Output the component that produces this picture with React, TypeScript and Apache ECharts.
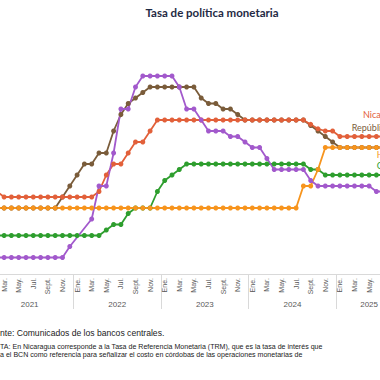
import React, { useEffect, useRef } from 'react';
import * as echarts from 'echarts';

// ---- Data ----
const monthNames = ['Ene.', 'Feb.', 'Mar.', 'Abr.', 'May.', 'Jun.', 'Jul.', 'Ago.', 'Sept.', 'Oct.', 'Nov.', 'Dic.'];
const years = ['2021', '2022', '2023', '2024', '2025'];
const monthsInYear = [12, 12, 12, 12, 9];

// Monthly policy rates, Jan 2021 - Sep 2025 (%)
const nicaragua = [
  3.75, 3.75, 3.5, 3.5, 3.5, 3.5, 3.5, 3.5, 3.5, 3.5, 3.5, 3.5,
  3.5, 3.5, 3.5, 3.75, 4.5, 5.0, 5.0, 5.5, 6.0, 6.0, 6.5, 7.0,
  7, 7, 7, 7, 7, 7, 7, 7, 7, 7, 7, 7,
  7, 7, 7, 7, 7, 7, 7, 7, 6.8, 6.6, 6.5, 6.5,
  6.25, 6.25, 6.25, 6.25, 6.25, 6.25, 6.25, 6.25, 6.25,
];
const dominicana = [
  3, 3, 3, 3, 3, 3, 3, 3, 3, 3, 3.5, 4,
  4.5, 5, 5, 5.5, 5.5, 6.5, 7.25, 7.75, 8, 8.25, 8.5, 8.5,
  8.5, 8.5, 8.5, 8.5, 8.5, 8, 7.75, 7.75, 7.5, 7.5, 7.25, 7,
  7, 7, 7, 7, 7, 7, 7, 7, 6.75, 6.5, 6.25, 6,
  5.75, 5.75, 5.75, 5.75, 5.75, 5.75, 5.75, 5.75, 5.75,
];
const honduras = [
  3, 3, 3, 3, 3, 3, 3, 3, 3, 3, 3, 3,
  3, 3, 3, 3, 3, 3, 3, 3, 3, 3, 3, 3,
  3, 3, 3, 3, 3, 3, 3, 3, 3, 3, 3, 3,
  3, 3, 3, 3, 3, 3, 3, 4, 4, 4.75, 5.75, 5.75,
  5.75, 5.75, 5.75, 5.75, 5.75, 5.75, 5.75, 5.75, 5.75,
];
const guatemala = [
  1.75, 1.75, 1.75, 1.75, 1.75, 1.75, 1.75, 1.75, 1.75, 1.75, 1.75, 1.75,
  1.75, 1.75, 1.75, 1.75, 2, 2.25, 2.25, 2.75, 3, 3, 3, 3.75,
  4.25, 4.5, 4.75, 5, 5, 5, 5, 5, 5, 5, 5, 5,
  5, 5, 5, 5, 5, 5, 5, 5, 4.75, 4.75, 4.5, 4.5,
  4.5, 4.5, 4.5, 4.5, 4.5, 4.5, 4.5, 4.5, 4.5,
];
const costaRica = [
  0.75, 0.75, 0.75, 0.75, 0.75, 0.75, 0.75, 0.75, 0.75, 0.75, 0.75, 1.25,
  null, null, 2.5, 4, 4, 5.5, 7.5, 7.5, 8.5, 9, 9, 9,
  9, 9, 8.5, 7.5, 7.5, 7, 6.5, 6.5, 6.5, 6.25, 6.25, 6,
  5.75, 5.75, 5.25, 4.75, 4.75, 4.75, 4.75, 4.75, 4.25, 4, 4, 4,
  4, 4, 4, 4, 4, 3.75, 3.75, 3.5, 3.5,
];

const seriesDefs = [
  { name: 'República Dominicana', data: dominicana, color: '#7A5C3A', labelIdx: 50, offset: [-2.8, -20.5] },
  { name: 'Nicaragua', data: nicaragua, color: '#E2603A', labelIdx: 51, offset: [1.2, -22] },
  { name: 'Guatemala', data: guatemala, color: '#2E9E2E', labelIdx: 53, offset: [0.3, -9.7] },
  { name: 'Honduras', data: honduras, color: '#F7941D', labelIdx: 53, offset: [0.3, 6.5] },
  { name: 'Costa Rica', data: costaRica, color: '#A259CC', labelIdx: 56, offset: [6, 8] },
];

const sourceText = 'Fuente: Comunicados de los bancos centrales.';
const noteLine1 = 'NOTA: En Nicaragua corresponde a la Tasa de Referencia Monetaria (TRM), que es la tasa de interés que';
const noteLine2 = 'utiliza el BCN como referencia para señalizar el costo en córdobas de las operaciones monetarias de';

export default function App() {
  const ref = useRef<HTMLDivElement>(null);

  useEffect(() => {
    if (!ref.current) return;
    const chart = echarts.init(ref.current, null, { renderer: 'svg' });

    const categories: string[] = [];
    const yearStarts: number[] = [];
    const yearCenters: number[] = [];
    years.forEach((y, yi) => {
      const start = categories.length;
      yearStarts.push(start);
      for (let k = 0; k < monthsInYear[yi]; k++) categories.push(monthNames[k] + '|' + y);
      yearCenters.push(start + (monthsInYear[yi] - 1) / 2);
    });
    const total = categories.length;

    const series = seriesDefs.map((s) => ({
      type: 'line',
      name: s.name,
      xAxisIndex: 0,
      yAxisIndex: 0,
      connectNulls: true,
      symbol: 'circle',
      symbolSize: 5,
      showAllSymbol: true,
      lineStyle: { color: s.color, width: 1.8 },
      itemStyle: { color: s.color },
      emphasis: { disabled: true },
      data: s.data.map((v, i) =>
        i === s.labelIdx
          ? {
              value: v,
              label: {
                show: true,
                position: 'inside',
                align: 'left',
                verticalAlign: 'middle',
                offset: s.offset,
                formatter: s.name,
                color: s.color,
                fontSize: 9,
                fontFamily: 'Lato',
              },
            }
          : v
      ),
    }));

    const option: any = {
      animation: false,
      backgroundColor: '#ffffff',
      title: {
        text: 'Tasa de política monetaria',
        left: 272,
        top: 6,
        padding: 0,
        textAlign: 'center',
        textStyle: { fontFamily: 'Lato', fontWeight: 'bold', fontSize: 11.5, color: '#1F2A44' },
      },
      grid: { left: 45.85, top: 54, width: 416.1, height: 220, containLabel: false },
      xAxis: [
        {
          type: 'category',
          data: categories,
          boundaryGap: true,
          position: 'bottom',
          axisLine: { show: true, lineStyle: { color: '#D9D9D9', width: 1 } },
          axisTick: { show: false },
          axisLabel: {
            interval: 1,
            rotate: 90,
            margin: 4,
            fontSize: 7,
            color: '#595959',
            fontFamily: 'Liberation Sans',
            formatter: (v: string) => v.split('|')[0],
          },
          splitLine: { show: false },
        },
        {
          type: 'value',
          min: -0.5,
          max: total - 0.5,
          position: 'bottom',
          axisLine: { show: false },
          axisTick: {
            show: true,
            length: 35,
            customValues: yearStarts.slice(1).map((s) => s - 0.5),
            lineStyle: { color: '#D9D9D9', width: 1 },
          },
          axisLabel: {
            show: true,
            customValues: yearCenters,
            margin: 26,
            fontSize: 8,
            color: '#595959',
            fontFamily: 'Liberation Sans',
            formatter: (v: number) => {
              const idx = yearCenters.findIndex((c) => Math.abs(c - v) < 0.01);
              return idx >= 0 ? years[idx] : '';
            },
          },
          splitLine: { show: false },
        },
      ],
      yAxis: { type: 'value', min: 0, max: 10, show: false },
      graphic: [
        {
          type: 'text',
          x: 45.2,
          y: 333,
          style: { text: sourceText, fontSize: 8.6, fontFamily: 'Liberation Sans', fill: '#222222', verticalAlign: 'middle' },
        },
        {
          type: 'text',
          x: 49.4,
          y: 346.7,
          style: { text: noteLine1, fontSize: 7.07, fontFamily: 'Liberation Sans', fill: '#222222', verticalAlign: 'middle' },
        },
        {
          type: 'text',
          x: 45.9,
          y: 354,
          style: { text: noteLine2, fontSize: 7.07, fontFamily: 'Liberation Sans', fill: '#222222', verticalAlign: 'middle' },
        },
      ],
      series,
    };

    chart.setOption(option);
    return () => chart.dispose();
  }, []);

  return (
    <div style={{ position: 'fixed', left: 0, top: 0, width: 380, height: 380, overflow: 'hidden', background: '#fff' }}>
      <div ref={ref} style={{ position: 'absolute', left: -60, top: 0, width: 540, height: 380 }} />
    </div>
  );
}
